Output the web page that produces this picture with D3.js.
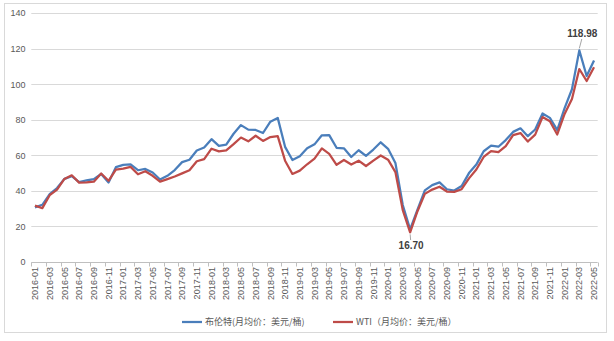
<!DOCTYPE html>
<html>
<head>
<meta charset="utf-8">
<script src="https://cdn.jsdelivr.net/npm/d3@7/dist/d3.min.js"></script>
<style>
  html, body { margin: 0; padding: 0; background: #fff; }
  svg { display: block; }
</style>
</head>
<body>
<svg id="chart" width="614" height="341"></svg>
<script>
// Monthly categories 2016-01 .. 2022-05
const months = [];
for (let y = 2016; y <= 2022; y++) {
  for (let m = 1; m <= 12; m++) {
    if (y === 2022 && m > 5) break;
    months.push(y + "-" + String(m).padStart(2, "0"));
  }
}

// Brent monthly average (USD/bbl)
const brent = [
  30.70, 32.18, 38.21, 41.58, 46.74, 48.25, 44.95, 45.84, 46.57, 49.52, 44.73, 53.31,
  54.58, 54.87, 51.59, 52.31, 50.33, 46.37, 48.48, 51.70, 56.15, 57.51, 62.71, 64.37,
  69.08, 65.32, 66.02, 72.11, 76.98, 74.41, 74.25, 72.53, 78.89, 81.03, 64.75, 57.36,
  59.41, 63.96, 66.14, 71.23, 71.32, 64.22, 63.92, 59.04, 62.83, 59.71, 63.21, 67.31,
  63.65, 55.66, 32.01, 18.38, 29.38, 40.27, 43.24, 44.74, 40.91, 40.19, 42.69, 49.99,
  54.77, 62.28, 65.41, 64.81, 68.53, 73.16, 75.17, 70.75, 74.49, 83.54, 81.05, 74.17,
  86.51, 97.13, 118.98, 104.58, 113.34
];

// WTI monthly average (USD/bbl)
const wti = [
  31.68, 30.32, 37.55, 40.75, 46.71, 48.76, 44.65, 44.72, 45.18, 49.78, 45.66, 51.97,
  52.50, 53.47, 49.33, 51.06, 48.48, 45.18, 46.63, 48.04, 49.82, 51.58, 56.64, 57.88,
  63.70, 62.23, 62.73, 66.25, 69.98, 67.87, 70.98, 68.06, 70.23, 70.75, 56.96, 49.52,
  51.38, 54.95, 58.15, 63.86, 60.83, 54.66, 57.35, 54.81, 56.95, 53.96, 57.03, 59.88,
  57.52, 50.54, 29.21, 16.70, 28.56, 38.31, 40.71, 42.34, 39.63, 39.40, 40.94, 47.02,
  52.00, 59.04, 62.33, 61.72, 65.17, 71.38, 72.49, 67.73, 71.65, 81.48, 79.15, 71.71,
  83.22, 91.64, 108.50, 101.78, 109.55
];

const yTicks = [0, 20, 40, 60, 80, 100, 120, 140];

const seriesNames = ["布伦特(月均价：美元/桶)", "WTI（月均价：美元/桶）"];
const seriesColors = ["#4a7ebb", "#be4b48"];

const svg = d3.select("#chart");

// outer frame
svg.append("rect")
  .attr("x", 4.5).attr("y", 3.5)
  .attr("width", 602).attr("height", 329)
  .attr("fill", "#fff").attr("stroke", "#d9d9d9").attr("stroke-width", 1);

const plot = { left: 31.3, right: 597.7, top: 13, bottom: 262 };

const x = d3.scaleBand().domain(months).range([plot.left, plot.right]).paddingInner(0).paddingOuter(0);
const cx = d => x(d) + x.bandwidth() / 2;
const y = d3.scaleLinear().domain([0, 140]).range([plot.bottom, plot.top]);

// horizontal gridlines
svg.append("g")
  .selectAll("line")
  .data(yTicks.filter(t => t > 0))
  .join("line")
  .attr("x1", plot.left).attr("x2", plot.right)
  .attr("y1", d => Math.round(y(d)) + 0.5).attr("y2", d => Math.round(y(d)) + 0.5)
  .attr("stroke", "#d9d9d9").attr("stroke-width", 1);

// y axis labels
const yAxis = d3.axisLeft(y).tickValues(yTicks).tickSize(0).tickPadding(0);
const gy = svg.append("g").attr("transform", `translate(25.5,0)`).call(yAxis);
gy.select(".domain").remove();
gy.selectAll("text")
  .attr("font-family", "Liberation Sans, Arial, sans-serif")
  .attr("font-size", 9)
  .attr("fill", "#595959");

// x axis baseline with tick marks every two categories
const xBase = Math.round(y(0)) + 0.5;
svg.append("line")
  .attr("x1", plot.left).attr("x2", plot.right)
  .attr("y1", xBase).attr("y2", xBase)
  .attr("stroke", "#bfbfbf").attr("stroke-width", 1);

const tickPos = [];
for (let i = 0; i <= months.length; i += 2) tickPos.push(plot.left + i * x.bandwidth());
tickPos.push(plot.right);
svg.append("g").selectAll("line")
  .data(tickPos)
  .join("line")
  .attr("x1", d => Math.round(d) + 0.5).attr("x2", d => Math.round(d) + 0.5)
  .attr("y1", xBase).attr("y2", xBase + 4)
  .attr("stroke", "#bfbfbf").attr("stroke-width", 1);

// rotated category labels
svg.append("g").selectAll("text")
  .data(months.filter((d, i) => i % 2 === 0))
  .join("text")
  .attr("transform", d => `translate(${cx(d)},267) rotate(-90)`)
  .attr("text-anchor", "end")
  .attr("dy", "0.35em")
  .attr("font-family", "Liberation Sans, Arial, sans-serif")
  .attr("font-size", 9)
  .attr("fill", "#595959")
  .text(d => d);

// series lines
const line = d3.line().x((d, i) => cx(months[i])).y(d => y(d));
[brent, wti].forEach((vals, k) => {
  svg.append("path")
    .datum(vals)
    .attr("d", line)
    .attr("fill", "none")
    .attr("stroke", seriesColors[k])
    .attr("stroke-width", 2.25)
    .attr("stroke-linejoin", "round");
});

// data callouts
const peakI = brent.indexOf(d3.max(brent));
const lowI = wti.indexOf(d3.min(wti));

svg.append("line")
  .attr("x1", cx(months[peakI])).attr("y1", y(brent[peakI]) - 2)
  .attr("x2", cx(months[peakI]) + 2.5).attr("y2", 39)
  .attr("stroke", "#a6a6a6").attr("stroke-width", 1);
svg.append("text")
  .attr("x", cx(months[peakI]) + 3).attr("y", 37)
  .attr("text-anchor", "middle")
  .attr("font-family", "Liberation Sans, Arial, sans-serif")
  .attr("font-size", 10).attr("font-weight", "bold")
  .attr("fill", "#404040")
  .text(brent[peakI].toFixed(2));

svg.append("line")
  .attr("x1", cx(months[lowI])).attr("y1", y(wti[lowI]) + 2)
  .attr("x2", cx(months[lowI]) + 0.5).attr("y2", 240)
  .attr("stroke", "#a6a6a6").attr("stroke-width", 1);
svg.append("text")
  .attr("x", cx(months[lowI]) + 1).attr("y", 249)
  .attr("text-anchor", "middle")
  .attr("font-family", "Liberation Sans, Arial, sans-serif")
  .attr("font-size", 10).attr("font-weight", "bold")
  .attr("fill", "#404040")
  .text(wti[lowI].toFixed(2));

// legend
const legendItems = [
  { x: 182, name: seriesNames[0], color: seriesColors[0] },
  { x: 333, name: seriesNames[1], color: seriesColors[1] }
];
const lg = svg.append("g").selectAll("g").data(legendItems).join("g")
  .attr("transform", d => `translate(${d.x},322)`);
lg.append("line")
  .attr("x1", 0).attr("x2", 20).attr("y1", 0).attr("y2", 0)
  .attr("stroke", d => d.color).attr("stroke-width", 2.25);
lg.append("text")
  .attr("x", 23).attr("dy", "0.35em")
  .attr("font-family", "Noto Sans CJK SC, sans-serif")
  .attr("font-size", 9)
  .attr("fill", "#595959")
  .text(d => d.name);
</script>
</body>
</html>
